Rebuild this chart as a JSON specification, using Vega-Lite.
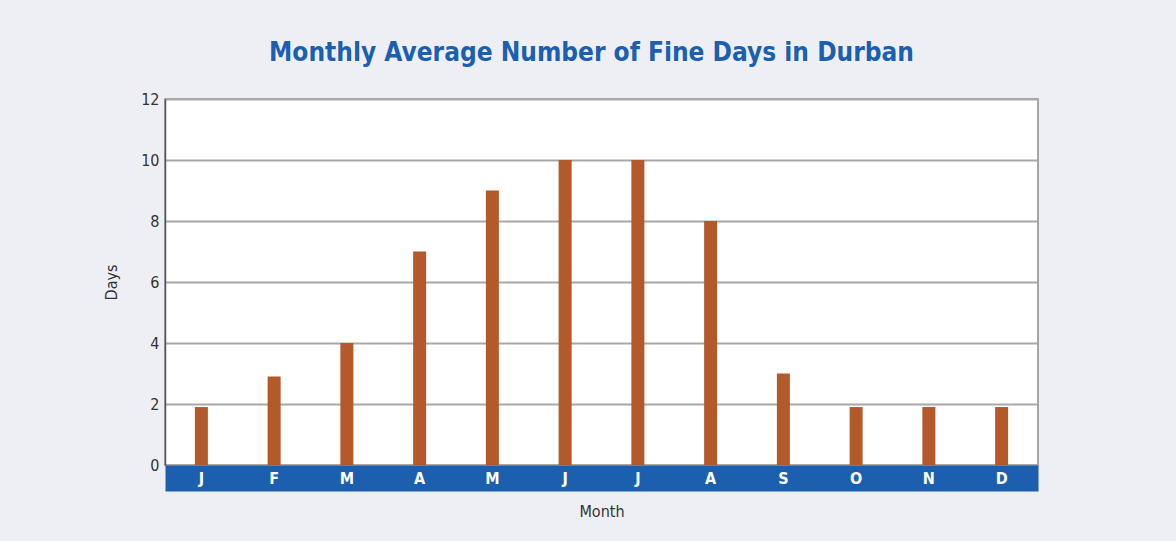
{
  "$schema": "https://vega.github.io/schema/vega-lite/v6.json",
  "autosize": {"type": "none"},
  "width": 873,
  "height": 366,
  "padding": {"left": 165, "top": 99, "right": 138, "bottom": 76},
  "background": "#eeeff5",
  "title": {
    "text": "Monthly Average Number of Fine Days in Durban",
    "font": "DejaVu Sans Condensed, Roboto, sans-serif",
    "fontSize": 26,
    "fontWeight": "bold",
    "color": "#1a5fb0",
    "anchor": "middle",
    "dx": -10,
    "offset": 25
  },
  "data": {
    "values": [
      {"month": "Jan", "days": 1.9},
      {"month": "Feb", "days": 2.9},
      {"month": "Mar", "days": 4},
      {"month": "Apr", "days": 7},
      {"month": "May", "days": 9},
      {"month": "Jun", "days": 10},
      {"month": "Jul", "days": 10},
      {"month": "Aug", "days": 8},
      {"month": "Sep", "days": 3},
      {"month": "Oct", "days": 1.9},
      {"month": "Nov", "days": 1.9},
      {"month": "Dec", "days": 1.9}
    ]
  },
  "layer": [
    {
      "mark": {"type": "bar", "size": 13, "color": "#b3592a"},
      "encoding": {
        "x": {
          "field": "month",
          "type": "ordinal",
          "sort": null,
          "axis": {
            "orient": "bottom",
            "title": "Month",
            "labels": false,
            "domainColor": "#1b5fae",
            "domainWidth": 26,
            "offset": 13,
            "ticks": false,
            "titleFont": "DejaVu Sans Condensed, Roboto, sans-serif",
            "titleFontSize": 16,
            "titleFontWeight": "normal",
            "titleColor": "#333333",
            "titlePadding": 25
          }
        },
        "y": {
          "field": "days",
          "type": "quantitative",
          "scale": {"domain": [0, 12]},
          "axis": {
            "title": "Days",
            "values": [0, 2, 4, 6, 8, 10, 12],
            "ticks": false,
            "labelPadding": 6,
            "labelFont": "DejaVu Sans Condensed, Roboto, sans-serif",
            "labelFontSize": 16,
            "labelColor": "#333333",
            "domainColor": "#555555",
            "domainWidth": 1.5,
            "gridColor": "#a8a8a8",
            "gridWidth": 2,
            "gridOpacity": 1,
            "titleFont": "DejaVu Sans Condensed, Roboto, sans-serif",
            "titleFontSize": 16,
            "titleFontWeight": "normal",
            "titleColor": "#333333",
            "titlePadding": 21
          }
        }
      }
    },
    {
      "mark": {"type": "bar", "size": 13, "color": "#b3592a", "opacity": 0},
      "encoding": {
        "x": {
          "field": "month",
          "type": "ordinal",
          "sort": null,
          "axis": {
            "orient": "bottom",
            "title": null,
            "domain": false,
            "ticks": false,
            "offset": 13,
            "labelExpr": "substring(datum.label, 0, 1)",
            "labelAngle": 0,
            "labelColor": "white",
            "labelBaseline": "middle",
            "labelPadding": 0,
            "labelFont": "DejaVu Sans Condensed, Roboto, sans-serif",
            "labelFontSize": 16,
            "labelFontWeight": "bold"
          }
        },
        "y": {"field": "days", "type": "quantitative"}
      }
    }
  ],
  "resolve": {"axis": {"x": "independent"}},
  "config": {
    "view": {"fill": "white", "stroke": "#8c8c8c", "strokeWidth": 1.5}
  }
}
